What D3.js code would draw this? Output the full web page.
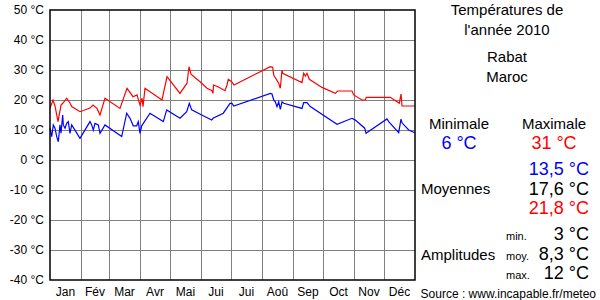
<!DOCTYPE html>
<html>
<head>
<meta charset="utf-8">
<script src="https://cdn.jsdelivr.net/npm/d3@7"></script>
<style>
  body { margin: 0; background: #fff; }
  text { font-family: "Liberation Sans", Arial, sans-serif; }
</style>
</head>
<body>
<div id="canvas"></div>
<script>
// Month boundaries (day of year) and labels
var monthStarts = [0, 31, 59, 90, 120, 151, 181, 212, 243, 273, 304, 334, 365];
var monthLabels = ["Jan", "Fév", "Mar", "Avr", "Mai", "Jui", "Jui", "Aoû", "Sep", "Oct", "Nov", "Déc"];
var tempTicks = [50, 40, 30, 20, 10, 0, -10, -20, -30, -40];

// Daily maximum temperatures [day, °C]
var maxSeries = [
  [0, 17.2], [3, 20], [5, 18], [8, 12.8], [11, 18.3], [13, 19], [16.7, 20.6], [20, 19],
  [21.7, 17.8], [30, 16.1], [40, 17.3], [43, 18.3], [47, 17.2], [50, 15], [55, 20.6],
  [70, 17.2], [77, 23.9], [83, 21.1], [87, 21.7], [90, 18.3], [92, 20.6], [93, 17.8],
  [95, 23.9], [112, 20], [117, 27.8], [130, 22.2], [137, 25.6], [139, 31.1], [141, 28.6],
  [150, 26.1], [157, 23.9], [162, 23.1], [163, 22.2], [163.5, 25], [168, 24.4], [175, 23.1],
  [177, 25], [178.3, 26.9], [181.7, 26.1], [184, 25], [220.3, 31.1], [222.7, 30.9],
  [223.7, 28.3], [228.7, 25.6], [230.3, 23.9], [232, 30], [232.7, 28.9], [252, 25.8],
  [253.7, 28.9], [255.3, 28], [257, 28.9], [259.3, 26.9], [272, 24.2], [285.3, 22.2],
  [287.7, 23], [302, 23], [303.7, 21.7], [312, 20], [315.3, 20], [316.3, 20.9],
  [340.3, 20.9], [347, 19.4], [349.3, 18.9], [351, 22], [352, 18], [364.7, 18]
];

// Daily minimum temperatures [day, °C]
var minSeries = [
  [0, 10.6], [1.7, 7.8], [3.3, 11.7], [5, 10.6], [6.7, 7.8], [8.3, 6.1], [10, 11.7],
  [11, 8.9], [12.7, 15], [13.3, 11.7], [15, 10.6], [16.7, 12.2], [18.3, 12.8], [20, 8.9],
  [21.7, 11.7], [30, 7.2], [40, 12.8], [41.7, 11.7], [43.3, 10], [45, 12.2], [48.3, 11.7],
  [50, 8.9], [55, 11.7], [71.7, 7.8], [76.7, 15.6], [80, 13.9], [83.3, 11.4], [86.7, 11.4],
  [88.3, 12.8], [90, 8.9], [91.7, 11.4], [100, 15.6], [113.3, 12.8], [116.7, 16.7],
  [130, 13.9], [136.7, 16.1], [139.3, 18.9], [141.7, 16.7], [151.7, 15], [161.7, 13.3],
  [163, 13.9], [173.3, 15.6], [180, 18.9], [182, 18.9], [183.7, 18], [220.3, 22.2],
  [222, 22], [223.7, 20], [225.3, 19.4], [227, 17.8], [228.7, 19.4], [230.3, 16.9],
  [232, 19.4], [233.7, 18.9], [252, 17.2], [253.7, 19.1], [257, 19.1], [260.3, 17.8],
  [287, 11.9], [302, 13.9], [305.3, 13.3], [314.7, 10.6], [316, 8.9], [337, 13.7],
  [338.7, 12.8], [348.7, 9.1], [351, 13.6], [352, 12.4], [358.7, 10], [364.7, 9.1]
];

// Summary values for the side panel
var extremes = { min: "6 °C", max: "31 °C" };
var averages = ["13,5 °C", "17,6 °C", "21,8 °C"];
var amplitudeLabels = ["min.", "moy.", "max."];
var amplitudes = ["3 °C", "8,3 °C", "12 °C"];

var svg = d3.select("#canvas").append("svg")
  .attr("width", 600)
  .attr("height", 300);

var x = d3.scaleLinear().domain([0, 365]).range([50, 415]);
var y = d3.scaleLinear().domain([-40, 50]).range([280, 10]);

// Grid
var grid = svg.append("g").attr("class", "grid")
  .style("stroke", "#808080")
  .style("stroke-width", "1px")
  .attr("shape-rendering", "crispEdges");

grid.selectAll("line.v")
  .data(monthStarts.slice(1, -1))
  .enter().append("line")
  .attr("class", "v")
  .attr("x1", function (d) { return x(d) + 0.5; })
  .attr("x2", function (d) { return x(d) + 0.5; })
  .attr("y1", y(50))
  .attr("y2", y(-40));

grid.selectAll("line.h")
  .data(tempTicks.slice(1, -1))
  .enter().append("line")
  .attr("class", "h")
  .attr("x1", x(0))
  .attr("x2", x(365))
  .attr("y1", function (d) { return y(d) + 0.5; })
  .attr("y2", function (d) { return y(d) + 0.5; });

// Temperature lines
var line = d3.line()
  .x(function (d) { return x(d[0]); })
  .y(function (d) { return y(d[1]); });

svg.append("path")
  .datum(maxSeries)
  .attr("d", line)
  .style("fill", "none")
  .style("stroke", "#ff0000")
  .style("stroke-width", "1.2px");

svg.append("path")
  .datum(minSeries)
  .attr("d", line)
  .style("fill", "none")
  .style("stroke", "#0000ff")
  .style("stroke-width", "1.2px");

// Frame
svg.append("rect")
  .attr("x", x(0))
  .attr("y", y(50))
  .attr("width", x(365) - x(0))
  .attr("height", y(-40) - y(50))
  .style("fill", "none")
  .style("stroke", "#000")
  .style("stroke-width", "1.5px");

// Y axis labels
var yAxis = d3.axisLeft(y)
  .tickValues(tempTicks)
  .tickSize(0)
  .tickPadding(6)
  .tickFormat(function (d) { return d + " °C"; });

svg.append("g")
  .attr("transform", "translate(" + x(0) + ",0)")
  .call(yAxis)
  .call(function (g) { g.select(".domain").remove(); })
  .selectAll("text")
  .style("font-size", "12px")
  .style("font-family", "'Liberation Sans', Arial, sans-serif")
  .attr("fill", "#000");

// Month labels
svg.append("g")
  .selectAll("text")
  .data(monthLabels)
  .enter().append("text")
  .attr("x", function (d, i) { return x((monthStarts[i] + monthStarts[i + 1]) / 2); })
  .attr("y", 296)
  .attr("text-anchor", "middle")
  .style("font-size", "12px")
  .text(function (d) { return d; });

// Side panel
var panel = svg.append("g");

function addText(txt, px, py, size, anchor, color) {
  return panel.append("text")
    .attr("x", px)
    .attr("y", py)
    .attr("text-anchor", anchor)
    .style("font-size", size + "px")
    .style("fill", color || "#000")
    .text(txt);
}

addText("Températures de", 507, 15, 15, "middle");
addText("l'année 2010", 507, 35, 15, "middle");
addText("Rabat", 507, 62, 15, "middle");
addText("Maroc", 507, 82, 15, "middle");

addText("Minimale", 459, 129, 15, "middle");
addText("Maximale", 554, 129, 15, "middle");
addText(extremes.min, 459, 149, 18, "middle", "#0000ff");
addText(extremes.max, 554, 149, 18, "middle", "#ff0000");

addText("Moyennes", 421, 194, 15, "start");
var avgColors = ["#0000ff", "#000", "#ff0000"];
averages.forEach(function (v, i) {
  addText(v, 589, 175 + i * 19.5, 18, "end", avgColors[i]);
});

addText("Amplitudes", 421, 260, 15, "start");
amplitudes.forEach(function (v, i) {
  addText(amplitudeLabels[i], 506, 240 + i * 19.5, 11, "start");
  addText(v, 589, 240 + i * 19.5, 18, "end");
});

addText("Source : www.incapable.fr/meteo", 596, 298, 12, "end");
</script>
</body>
</html>
